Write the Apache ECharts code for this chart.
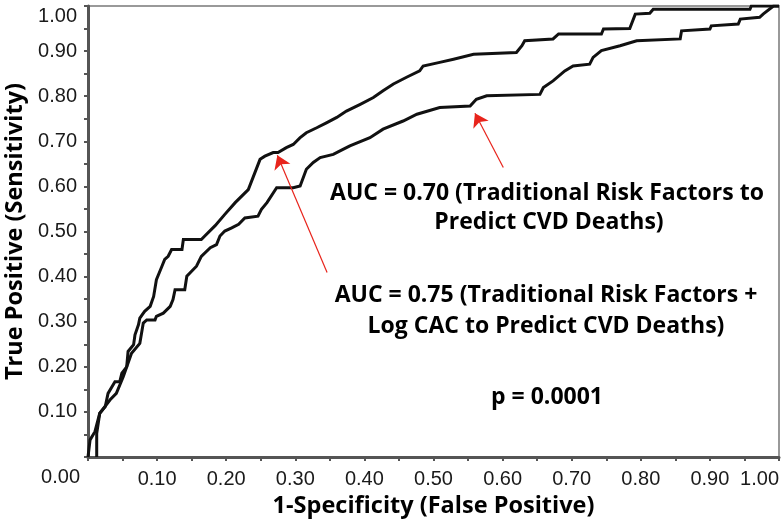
<!DOCTYPE html>
<html>
<head>
<meta charset="utf-8">
<script src="https://cdn.jsdelivr.net/npm/echarts@6/dist/echarts.min.js"></script>
<style>html,body{margin:0;padding:0;background:#fff}#c{width:784px;height:527px}</style>
</head>
<body>
<div id="c"></div>
<script>
// Tick values
const tickValues = [0, 0.1, 0.2, 0.3, 0.4, 0.5, 0.6, 0.7, 0.8, 0.9, 1.0];

// AUC = 0.75 curve (Traditional Risk Factors + Log CAC)
const cacX = [0, 0.003, 0.010, 0.017, 0.025, 0.029, 0.039, 0.046, 0.049, 0.056, 0.058, 0.066, 0.068, 0.073, 0.075, 0.082, 0.090, 0.095, 0.099, 0.107, 0.111, 0.116, 0.121, 0.136, 0.138, 0.164, 0.169, 0.184, 0.198, 0.213, 0.232, 0.249, 0.256, 0.268, 0.275, 0.287, 0.297, 0.307, 0.316, 0.331, 0.345, 0.360, 0.374, 0.394, 0.413, 0.427, 0.442, 0.461, 0.480, 0.485, 0.509, 0.529, 0.558, 0.620, 0.628, 0.632, 0.673, 0.681, 0.743, 0.746, 0.784, 0.792, 0.813, 0.818, 0.958, 0.960, 1.0];
const cacY = [0, 0.038, 0.056, 0.097, 0.112, 0.141, 0.167, 0.167, 0.186, 0.200, 0.234, 0.249, 0.271, 0.293, 0.308, 0.323, 0.334, 0.356, 0.393, 0.423, 0.438, 0.445, 0.460, 0.460, 0.482, 0.482, 0.490, 0.513, 0.538, 0.564, 0.593, 0.660, 0.667, 0.675, 0.675, 0.686, 0.693, 0.708, 0.719, 0.730, 0.741, 0.753, 0.767, 0.782, 0.797, 0.812, 0.827, 0.842, 0.856, 0.867, 0.875, 0.882, 0.893, 0.897, 0.912, 0.923, 0.927, 0.938, 0.938, 0.949, 0.950, 0.982, 0.984, 0.993, 0.993, 1.0, 1.0];

// AUC = 0.70 curve (Traditional Risk Factors)
const tradX = [0.0126, 0.0126, 0.017, 0.032, 0.041, 0.051, 0.063, 0.075, 0.080, 0.085, 0.097, 0.099, 0.109, 0.119, 0.123, 0.126, 0.140, 0.143, 0.157, 0.164, 0.177, 0.186, 0.191, 0.198, 0.208, 0.218, 0.227, 0.246, 0.251, 0.259, 0.273, 0.297, 0.307, 0.316, 0.326, 0.336, 0.355, 0.369, 0.379, 0.408, 0.427, 0.456, 0.476, 0.509, 0.553, 0.562, 0.577, 0.654, 0.659, 0.673, 0.690, 0.702, 0.726, 0.731, 0.743, 0.770, 0.794, 0.857, 0.859, 0.900, 0.902, 0.941, 0.944, 0.972, 0.977, 0.992, 1.0];
const tradY = [0, 0.052, 0.097, 0.127, 0.141, 0.178, 0.230, 0.252, 0.297, 0.304, 0.304, 0.312, 0.319, 0.334, 0.349, 0.371, 0.371, 0.401, 0.423, 0.445, 0.464, 0.471, 0.490, 0.501, 0.508, 0.516, 0.530, 0.534, 0.549, 0.564, 0.597, 0.597, 0.601, 0.638, 0.653, 0.664, 0.671, 0.682, 0.690, 0.708, 0.727, 0.745, 0.760, 0.775, 0.778, 0.793, 0.801, 0.804, 0.819, 0.834, 0.856, 0.867, 0.871, 0.886, 0.901, 0.912, 0.923, 0.927, 0.945, 0.949, 0.956, 0.960, 0.971, 0.975, 0.982, 1.0, 1.0];

// Arrow annotations: [tailX, tailY, tipX, tipY] in data units
const arrowCac = [0.346, 0.409, 0.274, 0.669];
const arrowTrad = [0.601, 0.642, 0.560, 0.762];

// Annotation texts
const noteTrad = ["AUC = 0.70 (Traditional Risk Factors to", "Predict CVD Deaths)"];
const noteCac = ["AUC = 0.75 (Traditional Risk Factors +", "Log CAC to Predict CVD Deaths)"];
const noteP = "p = 0.0001";

const xName = "1-Specificity (False Positive)";
const yName = "True Positive (Sensitivity)";

const zip = (a, b) => a.map((v, i) => [v, b[i]]);
const fmt = v => (v === 0 ? "" : v.toFixed(2));

const chart = echarts.init(document.getElementById('c'), null, {renderer: 'canvas'});
const labelFont = {fontFamily: 'Liberation Sans, Arial, sans-serif', fontSize: 20, color: '#1a1a1a'};
const boldFont = '"Open Sans", Lato, sans-serif';
const axisCommon = {
  type: 'value', min: 0, max: 1, interval: 0.1,
  splitLine: {show: false},
  axisLine: {show: true, onZero: false, lineStyle: {color: '#555', width: 3}},
  axisTick: {show: true, length: 4, lineStyle: {color: '#555', width: 2}},
  minorTick: {show: true, splitNumber: 2, length: 4, lineStyle: {color: '#555', width: 2}},
  nameLocation: 'middle',
  nameTextStyle: {fontFamily: boldFont, fontWeight: 'bold', fontSize: 23.5, color: '#000'}
};

const textEl = (txt, x, y, size) => ({
  type: 'text', x: x, y: y,
  style: {text: txt, fill: '#000', font: 'bold ' + size + 'px ' + boldFont, textAlign: 'center', textVerticalAlign: 'middle'}
});

chart.setOption({
  animation: false,
  backgroundColor: '#fff',
  grid: {left: 88, right: 5, top: 6, bottom: 70, show: true, borderColor: '#999', borderWidth: 2, containLabel: false, outerBoundsMode: 'none'},
  xAxis: Object.assign({}, axisCommon, {
    name: xName, nameGap: 35,
    axisLabel: Object.assign({formatter: fmt, margin: 12, alignMaxLabel: 'right'}, labelFont)
  }),
  yAxis: Object.assign({}, axisCommon, {
    name: yName, nameGap: 61,
    axisLabel: Object.assign({formatter: fmt, margin: 11, verticalAlignMaxLabel: 'top'}, labelFont)
  }),
  graphic: [
    {type: 'text', x: 80, y: 477, style: {text: '0.00', fill: '#1a1a1a', font: '20px "Liberation Sans", Arial, sans-serif', textAlign: 'right', textVerticalAlign: 'middle'}},
    textEl(noteTrad[0], 547, 193, 23),
    textEl(noteTrad[1], 549, 222, 23),
    textEl(noteCac[0], 546, 295, 23),
    textEl(noteCac[1], 546, 326, 23),
    textEl(noteP, 547, 397, 23)
  ],
  series: [
    {
      name: 'AUC 0.75', type: 'line', data: zip(cacX, cacY), showSymbol: false, symbol: 'none',
      lineStyle: {color: '#111', width: 3, join: 'miter'}, z: 3
    },
    {
      name: 'AUC 0.70', type: 'line', data: zip(tradX, tradY), showSymbol: false, symbol: 'none',
      lineStyle: {color: '#111', width: 3, join: 'miter'}, z: 3,
      markLine: {
        silent: true, symbol: ['none', 'arrow'], symbolSize: 13,
        lineStyle: {color: '#e8241c', width: 1.2, type: 'solid'},
        itemStyle: {color: '#e8241c'},
        label: {show: false},
        emphasis: {disabled: true},
        data: [
          [{coord: [arrowCac[0], arrowCac[1]]}, {coord: [arrowCac[2], arrowCac[3]]}],
          [{coord: [arrowTrad[0], arrowTrad[1]]}, {coord: [arrowTrad[2], arrowTrad[3]]}]
        ]
      }
    }
  ]
});
</script>
</body>
</html>
